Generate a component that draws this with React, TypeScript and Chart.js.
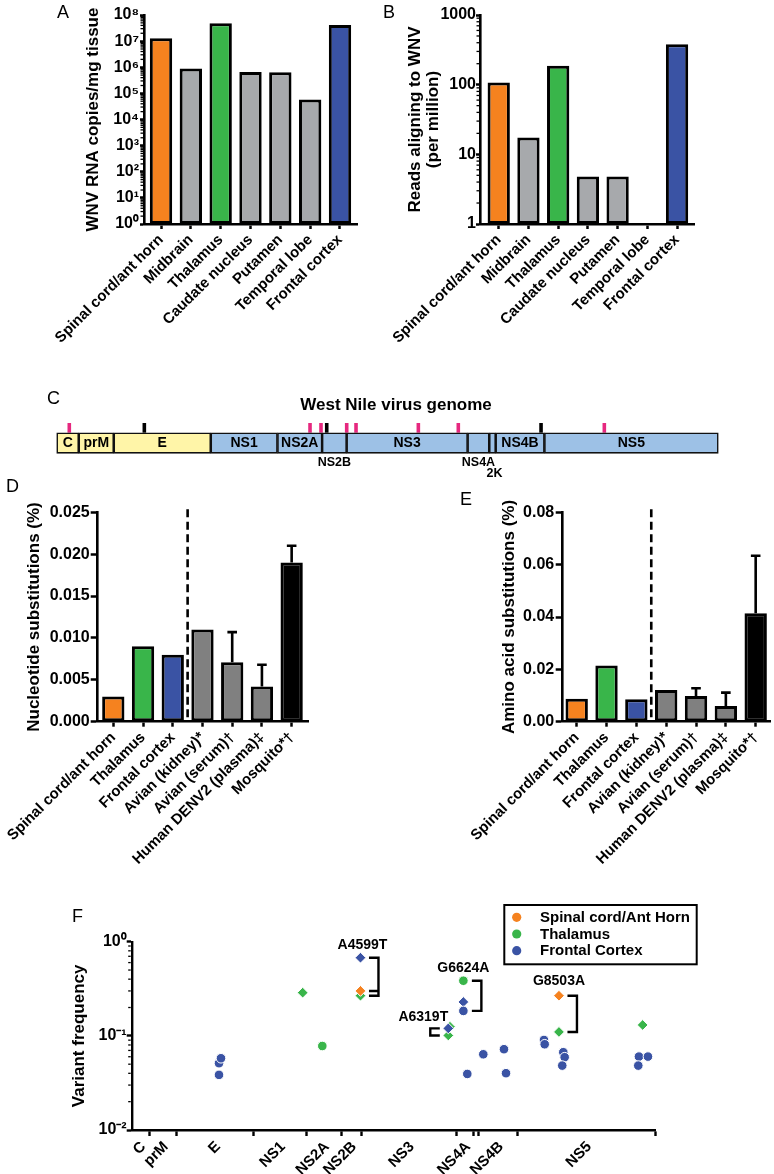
import React, { useEffect, useRef } from 'react';
import { Chart, registerables } from 'chart.js';

Chart.register(...registerables);

const FONT = '"Liberation Sans", Arial, Helvetica, sans-serif';
Chart.defaults.font.family = FONT;
Chart.defaults.color = '#000';

const ORANGE = '#F5821F';
const GREY = '#A7A9AC';
const GREEN = '#39B54A';
const BLUE = '#3A53A4';
const DARKGREY = '#808080';
const BLACK = '#000000';
const YELLOW = '#FFF5A8';
const LIGHTBLUE = '#9DC1E6';
const PINK = '#E6287F';

// ---------- Panels A & B ----------
const tissueCategories = ['Spinal cord/ant horn', 'Midbrain', 'Thalamus', 'Caudate nucleus', 'Putamen', 'Temporal lobe', 'Frontal cortex'];
const tissueColors = [ORANGE, GREY, GREEN, GREY, GREY, GREY, BLUE];
const rnaCopies = [1.3e7, 9.0e5, 4.8e7, 6.6e5, 6.5e5, 5.8e4, 4.1e7];
const rnaTickValues = [1, 10, 100, 1e3, 1e4, 1e5, 1e6, 1e7, 1e8];
const rnaTickLabels = ['10⁰', '10¹', '10²', '10³', '10⁴', '10⁵', '10⁶', '10⁷', '10⁸'];
const readsPerMillion = [107, 17.5, 187, 4.8, 4.8, null, 380];
const readsTickValues = [1, 10, 100, 1000];
const readsTickLabels = ['1', '10', '100', '1000'];

// ---------- Panels D & E ----------
const compCategories = ['Spinal cord/ant horn', 'Thalamus', 'Frontal cortex', 'Avian (kidney)*', 'Avian (serum)†', 'Human DENV2 (plasma)‡', 'Mosquito*†'];
const compColors = [ORANGE, GREEN, BLUE, DARKGREY, DARKGREY, DARKGREY, BLACK];
const ntSubst = [0.003, 0.009, 0.008, 0.011, 0.0071, 0.0042, 0.019];
const ntSubstErrTop = [null, null, null, null, 0.0107, 0.0068, 0.021];
const ntTickValues = [0, 0.005, 0.01, 0.015, 0.02, 0.025];
const ntTickLabels = ['0.000', '0.005', '0.010', '0.015', '0.020', '0.025'];
const aaSubst = [0.0088, 0.0215, 0.0086, 0.0121, 0.0098, 0.006, 0.0414];
const aaSubstErrTop = [null, null, null, null, 0.0128, 0.0111, 0.0634];
const aaTickValues = [0, 0.02, 0.04, 0.06, 0.08];
const aaTickLabels = ['0.00', '0.02', '0.04', '0.06', '0.08'];

// ---------- Panel C (genome) ----------
const genomeSegments = ['C', 'prM', 'E', 'NS1', 'NS2A', 'NS2B', 'NS3', 'NS4A', '2K', 'NS4B', 'NS5'];
const genomeBounds = [97, 440, 985, 2495, 3533, 4228, 4610, 6493, 6830, 6930, 7688, 10395];
const segmentStructural = [true, true, true, false, false, false, false, false, false, false, false];
const markPositions = [293, 1461, 4040, 4211, 4300, 4611, 4756, 5726, 6348, 7636, 8621];
const markKinds = ['p', 'b', 'p', 'p', 'b', 'p', 'p', 'p', 'p', 'b', 'p'];

// ---------- Panel F ----------
const fAxisLabels = ['C', 'prM', 'E', 'NS1', 'NS2A', 'NS2B', 'NS3', 'NS4A', 'NS4B', 'NS5'];
const fTickValues = [0.01, 0.1, 1];
const fTickLabels = ['10⁻²', '10⁻¹', '10⁰'];
const spinalPos = [4599, 8505];
const spinalFreq = [0.30, 0.267];
const spinalShape = ['d', 'd'];
const thalamusPos = [3462, 3848, 4599, 6360, 6327, 6624, 8505, 10152];
const thalamusFreq = [0.2875, 0.078, 0.267, 0.125, 0.101, 0.385, 0.110, 0.1305];
const thalamusShape = ['d', 'c', 'd', 'd', 'd', 'c', 'd', 'd'];
const frontalPos = [1815, 1854, 1815, 4599, 6327, 6624, 6624, 6701, 7016, 7423, 7463, 8210, 8224, 8590, 8617, 8570, 10079, 10256, 10066];
const frontalFreq = [0.0512, 0.0578, 0.0385, 0.676, 0.12, 0.229, 0.184, 0.0394, 0.0637, 0.0721, 0.0401, 0.0904, 0.0814, 0.067, 0.0593, 0.0483, 0.0602, 0.0602, 0.0483];
const frontalShape = ['c', 'c', 'c', 'd', 'd', 'd', 'c', 'c', 'c', 'c', 'c', 'c', 'c', 'c', 'c', 'c', 'c', 'c', 'c'];
const variantNames = ['A4599T', 'A6319T', 'G6624A', 'G8503A'];
const variantPos = [4599, 6327, 6624, 8505];
const variantFreqs = [[0.676, 0.30, 0.267], [0.12, 0.101], [0.385, 0.184], [0.267, 0.110]];

// ---------- plugins ----------
const minorTicksPlugin = {
  id: 'minorTicks',
  afterDraw(chart: any, _a: any, opts: any) {
    const s = chart.scales.y;
    if (!s || s.type !== 'logarithmic') return;
    const { ctx, chartArea } = chart;
    const len = opts.length ?? 3.5;
    ctx.save();
    ctx.strokeStyle = '#000';
    ctx.lineWidth = opts.width ?? 1.3;
    const e0 = Math.round(Math.log10(s.min));
    const e1 = Math.round(Math.log10(s.max));
    for (let e = e0; e < e1; e++) {
      for (let k = 2; k <= 9; k++) {
        const y = s.getPixelForValue(k * Math.pow(10, e));
        ctx.beginPath();
        ctx.moveTo(chartArea.left - 1, y);
        ctx.lineTo(chartArea.left - len, y);
        ctx.stroke();
      }
    }
    ctx.restore();
  },
};

const errorBarPlugin = {
  id: 'errorBars',
  afterDatasetsDraw(chart: any, _a: any, opts: any) {
    const tops = opts.tops;
    if (!tops) return;
    const meta = chart.getDatasetMeta(0);
    const ys = chart.scales.y;
    const ctx = chart.ctx;
    ctx.save();
    ctx.strokeStyle = '#000';
    ctx.lineWidth = 2.6;
    tops.forEach((t: number | null, i: number) => {
      if (t == null) return;
      const el = meta.data[i];
      const y1 = ys.getPixelForValue(t);
      ctx.beginPath();
      ctx.moveTo(el.x, el.y);
      ctx.lineTo(el.x, y1);
      ctx.moveTo(el.x - 4.8, y1);
      ctx.lineTo(el.x + 4.8, y1);
      ctx.stroke();
    });
    ctx.restore();
  },
};

const dividerPlugin = {
  id: 'divider',
  afterDatasetsDraw(chart: any, _a: any, opts: any) {
    if (opts.at == null) return;
    const ctx = chart.ctx;
    const x = chart.scales.x.getPixelForValue(opts.at);
    const { top, bottom } = chart.chartArea;
    ctx.save();
    ctx.setLineDash([8, 4.5]);
    ctx.lineWidth = 2.6;
    ctx.strokeStyle = '#000';
    ctx.beginPath();
    ctx.moveTo(x, top - 3);
    ctx.lineTo(x, bottom);
    ctx.stroke();
    ctx.restore();
  },
};

const genomeLabelPlugin = {
  id: 'genomeLabels',
  afterDatasetsDraw(chart: any, _a: any, opts: any) {
    const meta = chart.getDatasetMeta(0);
    const ctx = chart.ctx;
    ctx.save();
    ctx.fillStyle = '#000';
    ctx.textAlign = 'center';
    ctx.textBaseline = 'middle';
    genomeSegments.forEach((name, i) => {
      const el = meta.data[i];
      if (!el) return;
      const cx = (el.x + el.base) / 2;
      const off = opts.below?.[name];
      if (off === undefined) {
        ctx.font = `bold 14px ${FONT}`;
        ctx.fillText(name, cx, el.y + 0.5);
      } else {
        ctx.font = `bold 12.5px ${FONT}`;
        ctx.fillText(name, cx + (opts.belowDx?.[name] ?? 0), el.y + off);
      }
    });
    ctx.restore();
  },
};

const variantPlugin = {
  id: 'variants',
  afterDatasetsDraw(chart: any, _a: any, opts: any) {
    const xs = chart.scales.x;
    const ys = chart.scales.y;
    const ctx = chart.ctx;
    ctx.save();
    ctx.strokeStyle = '#000';
    ctx.fillStyle = '#000';
    ctx.lineWidth = 2.4;
    ctx.lineJoin = 'miter';
    ctx.font = `bold 14px ${FONT}`;
    ctx.textAlign = 'center';
    ctx.textBaseline = 'middle';
    variantNames.forEach((name, i) => {
      const px = xs.getPixelForValue(variantPos[i]);
      const pys = variantFreqs[i].map((f) => ys.getPixelForValue(f));
      const top = Math.min(...pys);
      const bot = Math.max(...pys);
      const side = opts.side[i];
      const near = px + side * opts.near;
      const far = px + side * opts.far;
      ctx.beginPath();
      ctx.moveTo(near, top);
      ctx.lineTo(far, top);
      ctx.lineTo(far, bot);
      ctx.lineTo(near, bot);
      pys.forEach((y) => {
        if (y !== top && y !== bot) {
          ctx.moveTo(near, y);
          ctx.lineTo(far, y);
        }
      });
      ctx.stroke();
      ctx.fillText(name, px + opts.labelDx[i], top + opts.labelDy[i]);
    });
    ctx.restore();
  },
};

const boxLegendPlugin = {
  id: 'boxLegend',
  afterDraw(chart: any, _a: any, opts: any) {
    const ctx = chart.ctx;
    ctx.save();
    ctx.strokeStyle = '#000';
    ctx.lineWidth = 2;
    ctx.strokeRect(opts.left, opts.top, opts.width, opts.height);
    ctx.font = `bold 15px ${FONT}`;
    ctx.textAlign = 'left';
    ctx.textBaseline = 'middle';
    chart.data.datasets.forEach((ds: any, i: number) => {
      const y = opts.top + opts.firstRow + i * opts.rowGap;
      ctx.fillStyle = ds.backgroundColor;
      ctx.beginPath();
      ctx.arc(opts.left + opts.dotX, y, 4.6, 0, Math.PI * 2);
      ctx.fill();
      ctx.fillStyle = '#000';
      ctx.fillText(ds.label, opts.left + opts.textX, y + 0.5);
    });
    ctx.restore();
  },
};

// ---------- config builders ----------
const xLabelFont = { family: FONT, size: 15, weight: 'bold' as const };
const yTickFont = { family: FONT, size: 16, weight: 'bold' as const };

function makeBarConfig(o: any) {
  return {
    type: 'bar',
    data: {
      datasets: [
        {
          data: o.values.map((v: number | null, i: number) => ({ x: i, y: v })),
          backgroundColor: o.colors,
          borderColor: '#000',
          borderWidth: 3,
          borderSkipped: false,
          categoryPercentage: 1,
          barPercentage: 0.75,
        },
      ],
    },
    options: {
      animation: false,
      responsive: false,
      devicePixelRatio: 1,
      events: [],
      layout: { padding: { left: 0, top: o.padTop, right: o.padRight, bottom: 0 } },
      plugins: {
        legend: { display: false },
        tooltip: { enabled: false },
        minorTicks: o.minor ? { length: 3.5 } : false,
        errorBars: o.errTops ? { tops: o.errTops } : false,
        divider: o.divider != null ? { at: o.divider } : false,
      },
      scales: {
        x: {
          type: 'linear',
          min: o.xMin,
          max: o.xMax,
          offset: false,
          afterBuildTicks: (s: any) => {
            s.ticks = o.categories.map((_: string, i: number) => ({ value: i }));
          },
          afterFit: (s: any) => {
            s.height = o.xHeight;
            s.paddingLeft = 0;
            s.paddingRight = 0;
          },
          ticks: {
            autoSkip: false,
            minRotation: 45,
            maxRotation: 45,
            font: xLabelFont,
            color: '#000',
            padding: 2,
            callback: (v: number) => o.categories[v],
          },
          grid: { display: true, offset: false, drawOnChartArea: false, drawTicks: true, tickLength: 5, tickWidth: 2.5, tickColor: '#000' },
          border: { display: true, color: '#000', width: 2.6 },
        },
        y: {
          type: o.yType,
          min: o.yMin,
          max: o.yMax,
          beginAtZero: false,
          afterBuildTicks: (s: any) => {
            s.ticks = o.tickValues.map((v: number) => ({ value: v }));
          },
          afterFit: (s: any) => {
            s.width = o.yWidth;
            s.paddingTop = 0;
            s.paddingBottom = 0;
          },
          ticks: { font: yTickFont, color: '#000', padding: o.yTickPad, callback: (_v: number, i: number) => o.tickLabels[i] },
          grid: { display: true, drawOnChartArea: false, drawTicks: true, tickLength: o.yTickLength, tickWidth: 2.5, tickColor: '#000' },
          border: { display: true, color: '#000', width: 2.6 },
          title: {
            display: true,
            text: o.title,
            color: '#000',
            font: { family: FONT, size: 17, weight: 'bold', lineHeight: o.titleLH ?? 1.2 },
            padding: { top: o.titlePad, bottom: 0 },
          },
        },
      },
    },
    plugins: [minorTicksPlugin, errorBarPlugin, dividerPlugin],
  };
}

function makeGenomeConfig() {
  return {
    type: 'bar',
    data: {
      labels: ['marks', 'genome'],
      datasets: [
        {
          type: 'bar',
          data: genomeSegments.map((_n, i) => ({ y: 'genome', x: [genomeBounds[i], genomeBounds[i + 1]] })),
          backgroundColor: segmentStructural.map((s) => (s ? YELLOW : LIGHTBLUE)),
          borderColor: '#111',
          borderWidth: 1.6,
          borderSkipped: false,
          barThickness: 20.6,
          clip: false,
        },
        {
          type: 'scatter',
          data: markPositions.map((p) => ({ x: p, y: 'marks' })),
          pointStyle: 'line',
          pointRotation: 90,
          pointRadius: 4.85,
          pointBorderWidth: 3.6,
          pointBorderColor: markKinds.map((k) => (k === 'p' ? PINK : '#000')),
          showLine: false,
          clip: false,
        },
      ],
    },
    options: {
      indexAxis: 'y',
      animation: false,
      responsive: false,
      devicePixelRatio: 1,
      events: [],
      layout: { padding: { left: 0, right: 0, top: 0, bottom: 34.35 } },
      plugins: {
        legend: { display: false },
        tooltip: { enabled: false },
        title: {
          display: true,
          text: 'West Nile virus genome',
          color: '#000',
          font: { family: FONT, size: 17, weight: 'bold', lineHeight: 1.2 },
          padding: { top: 9.8, bottom: 5.05 },
        },
        genomeLabels: { below: { NS2B: 19.3, NS4A: 19.3, '2K': 30 }, belowDx: { '2K': 2 } },
      },
      scales: {
        x: { type: 'linear', min: 97, max: 10395, display: false },
        y: {
          type: 'category',
          labels: ['marks', 'genome'],
          offset: true,
          display: true,
          grid: { display: false },
          border: { display: false },
          ticks: { display: false },
          afterFit: (s: any) => {
            s.width = 38.7;
          },
        },
        yR: {
          type: 'linear',
          position: 'right',
          display: true,
          grid: { display: false },
          border: { display: false },
          ticks: { display: false },
          afterFit: (s: any) => {
            s.width = 55.7;
          },
        },
      },
    },
    plugins: [genomeLabelPlugin],
  };
}

function makeVariantConfig() {
  const mids: { value: number; label: string }[] = [];
  genomeSegments.forEach((name, i) => {
    if (fAxisLabels.includes(name)) mids.push({ value: (genomeBounds[i] + genomeBounds[i + 1]) / 2, label: name });
  });
  const bounds = genomeBounds.slice(1).map((v) => ({ value: v, label: '' }));
  const allTicks = [...mids, ...bounds].sort((a, b) => a.value - b.value);
  const boundSet = new Set(bounds.map((b) => b.value));
  const mk = (label: string, color: string, pos: number[], freq: number[], shape: string[], order: number) => ({
    label,
    data: pos.map((x, i) => ({ x, y: freq[i] })),
    backgroundColor: color,
    pointBackgroundColor: color,
    pointBorderColor: '#ffffff',
    pointBorderWidth: 1,
    pointStyle: shape.map((s) => (s === 'd' ? 'rectRot' : 'circle')),
    pointRadius: shape.map((s) => (s === 'd' ? 5.4 : 4.8)),
    order,
    clip: false,
  });
  return {
    type: 'scatter',
    data: {
      datasets: [
        mk('Spinal cord/Ant Horn', ORANGE, spinalPos, spinalFreq, spinalShape, 2),
        mk('Thalamus', GREEN, thalamusPos, thalamusFreq, thalamusShape, 3),
        mk('Frontal Cortex', BLUE, frontalPos, frontalFreq, frontalShape, 1),
      ],
    },
    options: {
      animation: false,
      responsive: false,
      devicePixelRatio: 1,
      events: [],
      layout: { padding: { left: 0, top: 61.7, right: 119, bottom: 0 } },
      plugins: {
        legend: { display: false },
        tooltip: { enabled: false },
        minorTicks: { length: 3.5 },
        variants: {
          side: [1, -1, 1, 1],
          near: 8.5,
          far: 18,
          labelDx: [2, -25, 0, 0],
          labelDy: [-12.7, -11, -12.4, -14.7],
        },
        boxLegend: { left: 504.3, top: 25, width: 192.4, height: 59.3, firstRow: 12.3, rowGap: 16.7, dotX: 12.4, textX: 35.7 },
      },
      scales: {
        x: {
          type: 'linear',
          min: 97,
          max: 10395,
          afterBuildTicks: (s: any) => {
            s.ticks = allTicks.map((t) => ({ value: t.value }));
          },
          afterFit: (s: any) => {
            s.height = 44;
            s.paddingLeft = 0;
            s.paddingRight = 0;
          },
          ticks: {
            autoSkip: false,
            minRotation: 45,
            maxRotation: 45,
            font: xLabelFont,
            color: '#000',
            padding: 2,
            labelOffset: 3,
            callback: (_v: number, i: number) => allTicks[i]?.label ?? '',
          },
          grid: {
            display: true,
            drawOnChartArea: false,
            drawTicks: true,
            tickLength: 6,
            tickWidth: 2.4,
            tickColor: (ctx: any) => (ctx.tick && boundSet.has(ctx.tick.value) ? '#000' : 'rgba(0,0,0,0)'),
          },
          border: { display: true, color: '#000', width: 2.4 },
        },
        y: {
          type: 'logarithmic',
          min: 0.01,
          max: 1,
          afterBuildTicks: (s: any) => {
            s.ticks = fTickValues.map((v) => ({ value: v }));
          },
          afterFit: (s: any) => {
            s.width = 131.7;
            s.paddingTop = 0;
            s.paddingBottom = 0;
          },
          ticks: { font: yTickFont, color: '#000', padding: 0, callback: (_v: number, i: number) => fTickLabels[i] },
          grid: { display: true, drawOnChartArea: false, drawTicks: true, tickLength: 5, tickWidth: 2.4, tickColor: '#000' },
          border: { display: true, color: '#000', width: 2.4 },
          title: {
            display: true,
            text: 'Variant frequency',
            color: '#000',
            font: { family: FONT, size: 17, weight: 'bold', lineHeight: 1.2 },
            padding: { top: 69.3, bottom: 0 },
          },
        },
      },
    },
    plugins: [minorTicksPlugin, variantPlugin, boxLegendPlugin],
  };
}

function ChartBox({ left, top, width, height, make }: { left: number; top: number; width: number; height: number; make: () => any }) {
  const ref = useRef<HTMLCanvasElement>(null);
  useEffect(() => {
    const chart = new Chart(ref.current as HTMLCanvasElement, make());
    return () => chart.destroy();
  }, []);
  return <canvas ref={ref} width={width} height={height} style={{ position: 'absolute', left, top, width, height }} />;
}

const letterStyle = (left: number, top: number): React.CSSProperties => ({
  position: 'absolute',
  left,
  top,
  fontFamily: FONT,
  fontSize: 18,
  lineHeight: '18px',
  color: '#000',
});

export default function App() {
  return (
    <div style={{ position: 'absolute', left: 0, top: 0, width: 774, height: 1174, overflow: 'hidden', background: '#fff' }}>
      <ChartBox
        left={0}
        top={0}
        width={390}
        height={360}
        make={() =>
          makeBarConfig({
            categories: tissueCategories,
            values: rnaCopies,
            colors: tissueColors,
            yType: 'logarithmic',
            yMin: 1,
            yMax: 1e8,
            tickValues: rnaTickValues,
            tickLabels: rnaTickLabels,
            xMin: -0.57,
            xMax: 6.57,
            yWidth: 144,
            xHeight: 136,
            padTop: 15,
            padRight: 33,
            title: 'WNV RNA copies/mg tissue',
            titlePad: 83,
            yTickLength: 4,
            yTickPad: 1,
            minor: true,
          })
        }
      />
      <ChartBox
        left={360}
        top={0}
        width={414}
        height={360}
        make={() =>
          makeBarConfig({
            categories: tissueCategories,
            values: readsPerMillion,
            colors: tissueColors,
            yType: 'logarithmic',
            yMin: 1,
            yMax: 1000,
            tickValues: readsTickValues,
            tickLabels: readsTickLabels,
            xMin: -0.63,
            xMax: 6.57,
            yWidth: 120,
            xHeight: 136,
            padTop: 15,
            padRight: 80,
            title: ['Reads aligning to WNV', '(per million)'],
            titleLH: 1.06,
            titlePad: 46.5,
            yTickLength: 4,
            yTickPad: 0,
            minor: true,
          })
        }
      />
      <ChartBox left={18} top={385} width={756} height={100} make={makeGenomeConfig} />
      <ChartBox
        left={0}
        top={470}
        width={390}
        height={420}
        make={() =>
          makeBarConfig({
            categories: compCategories,
            values: ntSubst,
            colors: compColors,
            yType: 'linear',
            yMin: 0,
            yMax: 0.025,
            tickValues: ntTickValues,
            tickLabels: ntTickLabels,
            xMin: -0.525,
            xMax: 6.55,
            yWidth: 97.7,
            xHeight: 168.3,
            padTop: 42.3,
            padRight: 82,
            title: 'Nucleotide substitutions (%)',
            titlePad: 23.8,
            yTickLength: 7,
            yTickPad: 1,
            errTops: ntSubstErrTop,
            divider: 2.5,
          })
        }
      />
      <ChartBox
        left={380}
        top={470}
        width={394}
        height={420}
        make={() =>
          makeBarConfig({
            categories: compCategories,
            values: aaSubst,
            colors: compColors,
            yType: 'linear',
            yMin: 0,
            yMax: 0.08,
            tickValues: aaTickValues,
            tickLabels: aaTickLabels,
            xMin: -0.469,
            xMax: 6.48,
            yWidth: 182.7,
            xHeight: 168.3,
            padTop: 42.3,
            padRight: 4,
            title: 'Amino acid substitutions (%)',
            titlePad: 118.8,
            yTickLength: 7,
            yTickPad: 1.5,
            errTops: aaSubstErrTop,
            divider: 2.5,
          })
        }
      />
      <ChartBox left={0} top={880} width={774} height={294} make={makeVariantConfig} />
      <div style={letterStyle(57, 3)}>A</div>
      <div style={letterStyle(383, 3)}>B</div>
      <div style={letterStyle(47, 389)}>C</div>
      <div style={letterStyle(6, 477)}>D</div>
      <div style={letterStyle(460, 490)}>E</div>
      <div style={letterStyle(72, 907)}>F</div>
    </div>
  );
}
